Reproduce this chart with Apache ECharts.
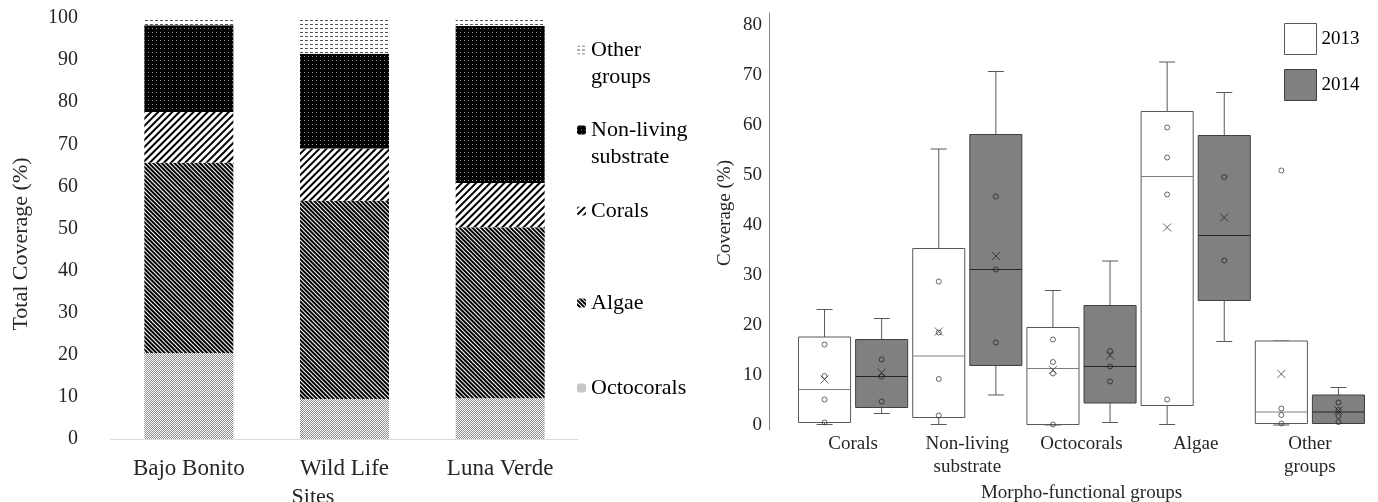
<!DOCTYPE html>
<html>
<head>
<meta charset="utf-8">
<script src="https://cdn.jsdelivr.net/npm/echarts@6/dist/echarts.min.js"></script>
<style>
body { margin: 0; background: #fff; }
#chart { width: 1378px; height: 502px; }
</style>
</head>
<body>
<div id="chart"></div>
<script>
// left panel: total coverage per site (stacked, %)
var sites = ['Bajo Bonito', 'Wild Life', 'Luna Verde'];
var octocorals = [20.4, 9.5, 9.7];
var algae = [45.2, 47.1, 40.6];
var corals = [12.1, 12.4, 10.5];
var nonLiving = [20.6, 22.5, 37.3];
var otherGroups = [1.7, 8.5, 1.9];

// right panel: coverage per morpho-functional group, 2013 vs 2014
var groups = ['Corals', 'Non-living\nsubstrate', 'Octocorals', 'Algae', 'Other\ngroups'];
// [min, Q1, median, Q3, max]
var box2013 = [[0.1, 0.5, 7.1, 17.6, 23.1], [0.1, 1.5, 13.8, 35.3, 55.2], [0, 0.1, 11.3, 19.5, 26.9], [0.1, 3.9, 49.7, 62.7, 72.6], [0, 0.3, 2.6, 16.8, 16.8]];
var box2014 = [[2.3, 3.5, 9.7, 17.1, 21.3], [6.0, 11.9, 31.1, 58.1, 70.7], [0.5, 4.4, 11.7, 23.9, 32.8], [16.7, 24.9, 37.9, 57.9, 66.5], [0.3, 0.3, 2.6, 6.0, 7.5]];
var points2013 = [[16.1, 9.8, 5.1, 0.5], [28.7, 18.5, 9.2, 1.9], [17.1, 12.6, 10.3, 0.1], [59.5, 53.5, 46.1, 5.1], [50.9, 3.3, 2.0, 0.3]];
var points2014 = [[13.1, 9.7, 4.7], [45.7, 31.1, 16.5], [14.8, 11.7, 8.7], [49.6, 32.9], [4.5, 3.0, 1.8, 0.6]];
var mean2013 = [9.1, 18.7, 11.0, 39.5, 10.2];
var mean2014 = [10.5, 33.8, 13.9, 41.5, 2.9];

var FONT = "'Liberation Serif', 'Times New Roman', serif";
var TXT = '#262626';
var RIGHT_LEFT = 796, RIGHT_W = 571;
var SHIFT = 0.25;                       // box offset inside a band
var SHIFT_PX = RIGHT_W / groups.length * SHIFT;

var chart = echarts.init(document.getElementById('chart'));

function boxRender(dir, fill, stroke, medColor) {
    return function (params, api) {
        var cat = api.value(0);
        var band = api.size([1, 0])[0];
        var x = api.coord([cat, 0])[0] + dir * band * SHIFT;
        var half = band * 0.228;
        var cap = 8;
        var yMin = api.coord([cat, api.value(1)])[1];
        var yQ1 = api.coord([cat, api.value(2)])[1];
        var yMed = api.coord([cat, api.value(3)])[1];
        var yQ3 = api.coord([cat, api.value(4)])[1];
        var yMax = api.coord([cat, api.value(5)])[1];
        var ws = { stroke: '#595959', lineWidth: 1 };
        return {
            type: 'group',
            children: [
                { type: 'line', shape: { x1: x, y1: yMax, x2: x, y2: yQ3 }, style: ws },
                { type: 'line', shape: { x1: x - cap, y1: yMax, x2: x + cap, y2: yMax }, style: ws },
                { type: 'line', shape: { x1: x, y1: yQ1, x2: x, y2: yMin }, style: ws },
                { type: 'line', shape: { x1: x - cap, y1: yMin, x2: x + cap, y2: yMin }, style: ws },
                { type: 'rect', shape: { x: x - half, y: yQ3, width: half * 2, height: yQ1 - yQ3 },
                  style: { fill: fill, stroke: stroke, lineWidth: 1 } },
                { type: 'line', shape: { x1: x - half, y1: yMed, x2: x + half, y2: yMed },
                  style: { stroke: medColor, lineWidth: 1 } }
            ]
        };
    };
}

function boxData(list) {
    return list.map(function (b, i) { return [i].concat(b); });
}
function pointData(list) {
    var out = [];
    list.forEach(function (vals, i) {
        vals.forEach(function (v) { out.push([groups[i], v]); });
    });
    return out;
}
function meanData(list) {
    return list.map(function (v, i) { return [groups[i], v]; });
}

var barDefs = [
    { name: 'Octocorals', data: octocorals, color: '#fff',
      decal: { color: '#8c8c8c', symbol: 'rect', symbolSize: 1, dashArrayX: [[1, 1], [0, 1, 1, 0]], dashArrayY: [1, 0] } },
    { name: 'Algae', data: algae, color: '#fff',
      decal: { color: '#000', symbol: 'rect', symbolSize: 1, dashArrayX: [1, 0], dashArrayY: [2, 1], rotation: Math.PI / 4 } },
    { name: 'Corals', data: corals, color: '#fff',
      decal: { color: '#000', symbol: 'rect', symbolSize: 1, dashArrayX: [1, 0], dashArrayY: [2, 3], rotation: -Math.PI / 4 } },
    { name: 'Non-living substrate', data: nonLiving, color: '#000',
      decal: { color: '#999', symbol: 'rect', symbolSize: 1, dashArrayX: [1, 3], dashArrayY: [1, 3] } },
    { name: 'Other groups', data: otherGroups, color: '#fff',
      decal: { color: '#555', symbol: 'rect', symbolSize: 1, dashArrayX: [3, 2], dashArrayY: [1, 3] } }
];

var barSeries = barDefs.map(function (d) {
    return {
        name: d.name, type: 'bar', stack: 'total', barWidth: 89,
        xAxisIndex: 0, yAxisIndex: 0,
        itemStyle: { color: d.color, decal: d.decal },
        data: d.data
    };
});

// one legend per item so each can sit where the original puts it;
// two-line names get an empty first line so the icon lines up with the first word
var legendTops = { 'Other groups': 9.5, 'Non-living substrate': 89.5, 'Corals': 197.5, 'Algae': 289.5, 'Octocorals': 374.5 };
var leftLegends = barDefs.map(function (d) {
    return {
        data: [d.name], left: 577, top: legendTops[d.name], padding: 0,
        orient: 'vertical', itemWidth: 9, itemHeight: 9,
        formatter: function (n) {
            return n.indexOf(' ') > 0 ? ' \n' + n.replace(' ', '\n') : n;
        },
        textStyle: { fontFamily: FONT, fontSize: 22, lineHeight: 27, color: '#000' }
    };
});

var option = {
    animation: false,
    backgroundColor: '#fff',
    textStyle: { fontFamily: FONT },
    grid: [
        { left: 111, width: 467, top: 18, bottom: 63, outerBoundsMode: 'none' },
        { left: RIGHT_LEFT, width: RIGHT_W, top: 13, bottom: 72, outerBoundsMode: 'none' }
    ],
    legend: leftLegends.concat([{
        left: 1284, top: 23, padding: 0, orient: 'vertical',
        itemWidth: 32, itemHeight: 31, itemGap: 14,
        textStyle: { fontFamily: FONT, fontSize: 19, color: '#000' },
        data: [
            { name: '2013', icon: 'rect', itemStyle: { color: '#fff', borderColor: '#595959', borderWidth: 1 } },
            { name: '2014', icon: 'rect', itemStyle: { color: '#808080', borderColor: '#404040', borderWidth: 1 } }
        ]
    }]),
    xAxis: [
        {
            gridIndex: 0, type: 'category', data: sites,
            axisLine: { lineStyle: { color: '#d9d9d9' } }, axisTick: { show: false },
            axisLabel: { interval: 0, margin: 18, fontFamily: FONT, fontSize: 23, color: TXT },
            name: 'Sites', nameLocation: 'middle', nameGap: 47,
            nameTextStyle: { fontFamily: FONT, fontSize: 22, color: TXT, padding: [0, 63, 0, 0] }
        },
        {
            gridIndex: 1, type: 'category', data: groups,
            axisLine: { show: false }, axisTick: { show: false },
            axisLabel: { interval: 0, margin: 3, fontFamily: FONT, fontSize: 19, lineHeight: 23, color: TXT },
            name: 'Morpho-functional groups', nameLocation: 'middle', nameGap: 48,
            nameTextStyle: { fontFamily: FONT, fontSize: 19, color: TXT }
        }
    ],
    yAxis: [
        {
            gridIndex: 0, type: 'value', min: 0, max: 100, interval: 10,
            axisLine: { show: false }, axisTick: { show: false }, splitLine: { show: false },
            axisLabel: { margin: 33, fontFamily: FONT, fontSize: 20, color: TXT },
            name: 'Total Coverage (%)', nameLocation: 'middle', nameGap: 79,
            nameTextStyle: { fontFamily: FONT, fontSize: 22, color: TXT, padding: [0, 31, 0, 0] }
        },
        {
            // axis line runs a little past 0 and 80, as in the original
            gridIndex: 1, type: 'value', min: -1, max: 82.4, interval: 1, offset: 27,
            axisLine: { show: true, lineStyle: { color: '#868686' } },
            axisTick: { show: false }, splitLine: { show: false },
            axisLabel: {
                margin: 7, fontFamily: FONT, fontSize: 19, color: TXT,
                formatter: function (v) { return (v >= 0 && v <= 80 && v % 10 === 0) ? String(v) : ''; }
            },
            name: 'Coverage (%)', nameLocation: 'middle', nameGap: 34,
            nameTextStyle: { fontFamily: FONT, fontSize: 19, color: TXT, padding: [0, 0, 0, 17] }
        }
    ],
    series: barSeries.concat([
        {
            name: '2013', type: 'custom', xAxisIndex: 1, yAxisIndex: 1,
            renderItem: boxRender(-1, '#fff', '#595959', '#7f7f7f'),
            encode: { x: 0, y: [1, 2, 3, 4, 5] },
            itemStyle: { color: '#fff' },
            data: boxData(box2013), z: 2
        },
        {
            name: '2014', type: 'custom', xAxisIndex: 1, yAxisIndex: 1,
            renderItem: boxRender(1, '#808080', '#404040', '#262626'),
            encode: { x: 0, y: [1, 2, 3, 4, 5] },
            itemStyle: { color: '#808080' },
            data: boxData(box2014), z: 2
        },
        {
            name: '2013', type: 'scatter', xAxisIndex: 1, yAxisIndex: 1, z: 3,
            symbol: 'circle', symbolSize: 5, symbolOffset: [-SHIFT_PX, 0],
            itemStyle: { color: 'transparent', borderColor: '#404040', borderWidth: 1 },
            data: pointData(points2013)
        },
        {
            name: '2014', type: 'scatter', xAxisIndex: 1, yAxisIndex: 1, z: 3,
            symbol: 'circle', symbolSize: 5, symbolOffset: [SHIFT_PX, 0],
            itemStyle: { color: 'transparent', borderColor: '#262626', borderWidth: 1 },
            data: pointData(points2014)
        },
        {
            name: '2013', type: 'scatter', xAxisIndex: 1, yAxisIndex: 1, z: 3,
            symbol: 'path://M0,0L10,10M10,0L0,10', symbolSize: 8, symbolOffset: [-SHIFT_PX, 0],
            itemStyle: { color: 'transparent', borderColor: '#404040', borderWidth: 1 },
            data: meanData(mean2013)
        },
        {
            name: '2014', type: 'scatter', xAxisIndex: 1, yAxisIndex: 1, z: 3,
            symbol: 'path://M0,0L10,10M10,0L0,10', symbolSize: 8, symbolOffset: [SHIFT_PX, 0],
            itemStyle: { color: 'transparent', borderColor: '#262626', borderWidth: 1 },
            data: meanData(mean2014)
        }
    ])
};

chart.setOption(option);
</script>
</body>
</html>
